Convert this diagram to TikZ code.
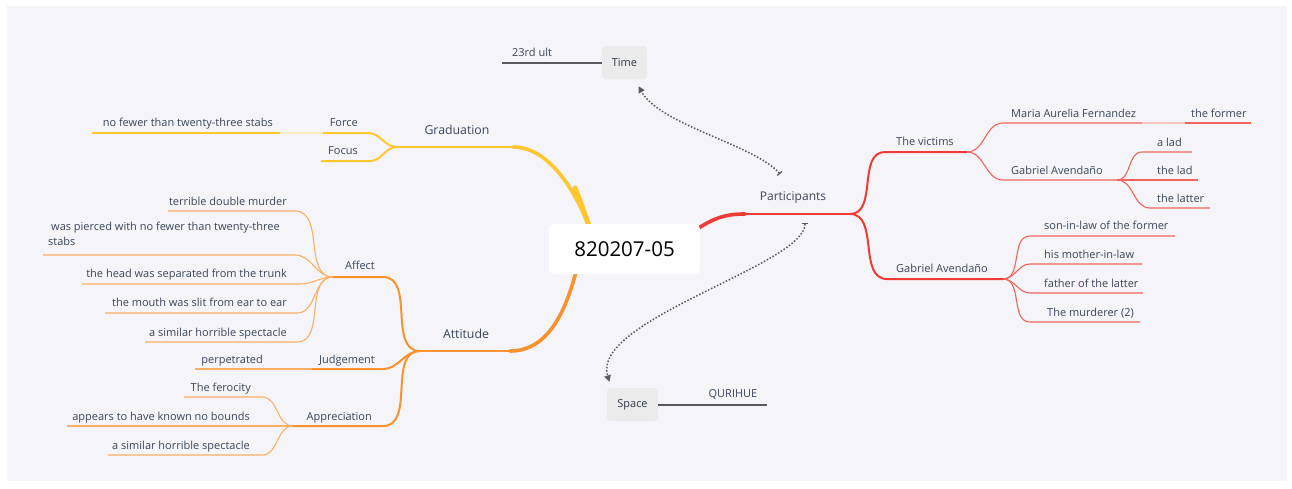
\documentclass[tikz,border=0pt]{standalone}
\usepackage{fontspec}
\setmainfont{Open Sans}
\usetikzlibrary{arrows.meta}
\definecolor{bgc}{HTML}{F4F4F9}
\definecolor{txt}{HTML}{3B4659}
\definecolor{yel}{HTML}{FFC62E}
\definecolor{yell}{HTML}{FFD35C}
\definecolor{yelp}{HTML}{FBEBC0}
\definecolor{ora}{HTML}{F7922C}
\definecolor{oral}{HTML}{FAB064}
\definecolor{rd}{HTML}{EE3B33}
\definecolor{rdl}{HTML}{F2645B}
\definecolor{rdp}{HTML}{F7C6C2}
\definecolor{conn}{HTML}{5A5A5A}
\definecolor{boxc}{HTML}{EBEBEB}
\tikzset{
  lbl/.style={font=\fontsize{11}{15}\selectfont, text=txt, inner sep=0pt},
  mainlbl/.style={font=\fontsize{12.3}{15}\selectfont, text=txt, inner sep=0pt},
  trunk/.style={line width=3.6pt, line cap=round},
  trunkbase/.style={line width=5pt, line cap=round},
  branch/.style={line width=2pt},
  leaf/.style={line width=1.1pt},
  tagline/.style={line width=2pt, conn},
  link/.style={conn, line width=1.5pt, dash pattern=on 1.5pt off 1.8pt,
    {Bar[width=6pt,line width=1.3pt]}-{Triangle[length=6.5pt,width=6.5pt]}},
  tagbox/.style={fill=boxc, rounded corners=4pt, minimum width=45pt,
    minimum height=33pt, inner sep=0pt, font=\fontsize{11}{12}\selectfont, text=txt!80!black},
  rootbox/.style={fill=white, rounded corners=5pt, minimum width=151pt,
    minimum height=50pt, inner sep=0pt, font=\fontsize{20.5}{22}\selectfont, text=black}
}
\begin{document}
\begin{tikzpicture}[x=1pt,y=-1pt]
\useasboundingbox (0,0) rectangle (1292,488);
\fill[white] (0,0) rectangle (1292,488);
\fill[bgc] (7,6) rectangle (1287,481);

% ---------- anchor points of the branch lines ----------
\coordinate (gradS) at (592,234);
\coordinate (gradR) at (513,147);  \coordinate (gradL) at (397,147);
\coordinate (forceR) at (368,133); \coordinate (forceL) at (323,133);
\coordinate (stabsM) at (280,133); \coordinate (stabsL) at (92,133);
\coordinate (focusR) at (370,161); \coordinate (focusL) at (321,161);

\coordinate (attS) at (578,264);
\coordinate (attR) at (510,351);   \coordinate (attL) at (420,351);
\coordinate (affR) at (383,277);   \coordinate (affL) at (333,277);
\coordinate (a1R) at (295,211);    \coordinate (a1L) at (168,211);
\coordinate (a2R) at (295,255);    \coordinate (a2L) at (43,255);
\coordinate (a3R) at (300,284);    \coordinate (a3L) at (82,284);
\coordinate (a4R) at (297,313);    \coordinate (a4L) at (105,313);
\coordinate (a5R) at (297,342);    \coordinate (a5L) at (145,342);
\coordinate (judR) at (383,369);   \coordinate (judL) at (312,369);
\coordinate (perpL) at (195,369);
\coordinate (appR) at (383,426);   \coordinate (appL) at (293,426);
\coordinate (p1R) at (262,397);    \coordinate (p1L) at (184,397);
\coordinate (p2L) at (67,426);
\coordinate (p3R) at (262,455);    \coordinate (p3L) at (108,455);

\coordinate (partS) at (690,234);
\coordinate (partA) at (745,214);  \coordinate (partR) at (850,214);
\coordinate (vicL) at (885,152);   \coordinate (vicR) at (967,152);
\coordinate (marL) at (1003,123);  \coordinate (marR) at (1142,123);
\coordinate (forL) at (1185,123);  \coordinate (forR) at (1251,123);
\coordinate (gabL) at (1003,180);  \coordinate (gabR) at (1117,180);
\coordinate (ladaL) at (1142,152); \coordinate (ladaR) at (1192,152);
\coordinate (ladR) at (1198,180);
\coordinate (latL) at (1150,208);  \coordinate (latR) at (1210,208);
\coordinate (gbL) at (887,279);    \coordinate (gbR) at (1003,279);
\coordinate (s1L) at (1030,236);   \coordinate (s1R) at (1175,236);
\coordinate (s2L) at (1030,264);   \coordinate (s2R) at (1142,264);
\coordinate (s3L) at (1030,293);   \coordinate (s3R) at (1143,293);
\coordinate (s4L) at (1030,322);   \coordinate (s4R) at (1140,322);

% ---------- Graduation ----------
\draw[trunk, yel] (gradS) .. controls (575,188) and (548,147) .. (gradR);
\draw[trunkbase, yel] (gradS) .. controls (585,215) and (580,200) .. (575,188);
\draw[branch, yel] (gradR) -- (gradL);
\draw[branch, yel] (gradL) to[out=180,in=0] (forceR) -- (forceL);
\draw[branch, yel] (gradL) to[out=180,in=0] (focusR) -- (focusL);
\draw[leaf, yelp] (forceL) -- (stabsM);
\draw[leaf, yel] (stabsM) -- (stabsL);

% ---------- Attitude ----------
\draw[trunk, ora] (attS) .. controls (565,318) and (545,351) .. (attR);
\draw[branch, ora] (attR) -- (attL);
\draw[branch, ora] (attL) to[out=180,in=0] (affR) -- (affL);
\draw[branch, ora] (attL) to[out=180,in=0] (judR) -- (judL);
\draw[branch, ora] (attL) to[out=180,in=0] (appR) -- (appL);
\draw[leaf, oral] (affL) to[out=180,in=0] (a1R) -- (a1L);
\draw[leaf, oral] (affL) to[out=180,in=0] (a2R) -- (a2L);
\draw[leaf, oral] (affL) to[out=180,in=0] (a3R) -- (a3L);
\draw[leaf, oral] (affL) to[out=180,in=0] (a4R) -- (a4L);
\draw[leaf, oral] (affL) to[out=180,in=0] (a5R) -- (a5L);
\draw[leaf, oral] (judL) -- (perpL);
\draw[leaf, oral] (appL) to[out=180,in=0] (p1R) -- (p1L);
\draw[leaf, oral] (appL) -- (p2L);
\draw[leaf, oral] (appL) to[out=180,in=0] (p3R) -- (p3L);

% ---------- Participants ----------
\draw[trunk, rd] (partS) .. controls (712,218) and (725,214) .. (partA);
\draw[branch, rd] (partA) -- (partR);
\draw[branch, rd] (partR) to[out=0,in=180] (vicL) -- (vicR);
\draw[branch, rd] (partR) to[out=0,in=180] (gbL) -- (gbR);
\draw[leaf, rdl] (vicR) to[out=0,in=180] (marL) -- (marR);
\draw[leaf, rdp] (marR) -- (forL);
\draw[leaf, rdl] (forL) -- (forR);
\draw[leaf, rdl] (vicR) to[out=0,in=180] (gabL) -- (gabR);
\draw[leaf, rdl] (gabR) to[out=0,in=180] (ladaL) -- (ladaR);
\draw[leaf, rdl] (gabR) -- (ladR);
\draw[leaf, rdl] (gabR) to[out=0,in=180] (latL) -- (latR);
\draw[leaf, rdl] (gbR) to[out=0,in=180] (s1L) -- (s1R);
\draw[leaf, rdl] (gbR) to[out=0,in=180] (s2L) -- (s2R);
\draw[leaf, rdl] (gbR) to[out=0,in=180] (s3L) -- (s3R);
\draw[leaf, rdl] (gbR) to[out=0,in=180] (s4L) -- (s4R);

% ---------- central topic ----------
\node[rootbox] (root) at (624.5,249) {820207-05};

% ---------- labels, left side ----------
\node[mainlbl] (grad) at (457,130) {Graduation};
\node[lbl, anchor=base east] (force) at (358,126) {Force};
\node[lbl, anchor=base east] (focus) at (358,154) {Focus};
\node[lbl, anchor=base east] (stabs) at (273,126) {no fewer than twenty-three stabs};
\node[mainlbl] (att) at (466,334) {Attitude};
\node[lbl, anchor=base east] (affect) at (375,269) {Affect};
\node[lbl, anchor=base east] (a1) at (287,205) {terrible double murder};
\node[lbl, anchor=north west, align=left] (a2) at (48,222)
  {\hspace*{3pt}was pierced with no fewer than twenty-three\\stabs};
\node[lbl, anchor=base east] (a3) at (287,277) {the head was separated from the trunk};
\node[lbl, anchor=base east] (a4) at (287,306) {the mouth was slit from ear to ear};
\node[lbl, anchor=base east] (a5) at (287,336) {a similar horrible spectacle};
\node[lbl, anchor=base east] (judge) at (375,363) {Judgement};
\node[lbl, anchor=base east] (perp) at (263,363) {perpetrated};
\node[lbl, anchor=base east] (fer) at (251,391) {The ferocity};
\node[lbl, anchor=base east] (appr) at (372,420) {Appreciation};
\node[lbl, anchor=base east] (bounds) at (250,420) {appears to have known no bounds};
\node[lbl, anchor=base east] (spect) at (250,449) {a similar horrible spectacle};

% ---------- labels, right side ----------
\node[mainlbl, font=\fontsize{12}{14}\selectfont] (part) at (793,198) {Participants};
\node[lbl, anchor=base west] (vic) at (896,145) {The victims};
\node[lbl, anchor=base west] (maria) at (1011,117) {Maria Aurelia Fernandez};
\node[lbl, anchor=base west] (former) at (1191,117) {the former};
\node[lbl, anchor=base west] (gab) at (1011,174) {Gabriel Avendaño};
\node[lbl, anchor=base west] (alad) at (1157,146) {a lad};
\node[lbl, anchor=base west] (thelad) at (1157,174) {the lad};
\node[lbl, anchor=base west] (latter) at (1157,202) {the latter};
\node[lbl, anchor=base west] (gab2) at (896,272) {Gabriel Avendaño};
\node[lbl, anchor=base west] (son) at (1044,229) {son-in-law of the former};
\node[lbl, anchor=base west] (mother) at (1044,258) {his mother-in-law};
\node[lbl, anchor=base west] (father) at (1044,287) {father of the latter};
\node[lbl, anchor=base west] (murd) at (1047,316) {The murderer (2)};

% ---------- Time and Space ----------
\node[tagbox] (time) at (624.5,62.5) {Time};
\coordinate (timeL) at (502,63);
\draw[tagline] (time.west |- timeL) -- (timeL);
\node[lbl] (ult) at (532,52) {23rd ult};
\node[tagbox, minimum width=51pt] (space) at (632.5,404.5) {Space};
\coordinate (spaceR) at (767,405);
\draw[tagline] (space.east |- spaceR) -- (spaceR);
\node[lbl] (qur) at (733,394) {QURIHUE};

% ---------- relation links ----------
\draw[link] ([shift={(-13,-18)}]part.north) .. controls (755,145) and (660,125) .. ([shift={(14,7)}]time.south);
\draw[link] ([shift={(12,19)}]part.south) .. controls (805,265) and (590,320) .. ([shift={(-23,-6)}]space.north);
\end{tikzpicture}
\end{document}
